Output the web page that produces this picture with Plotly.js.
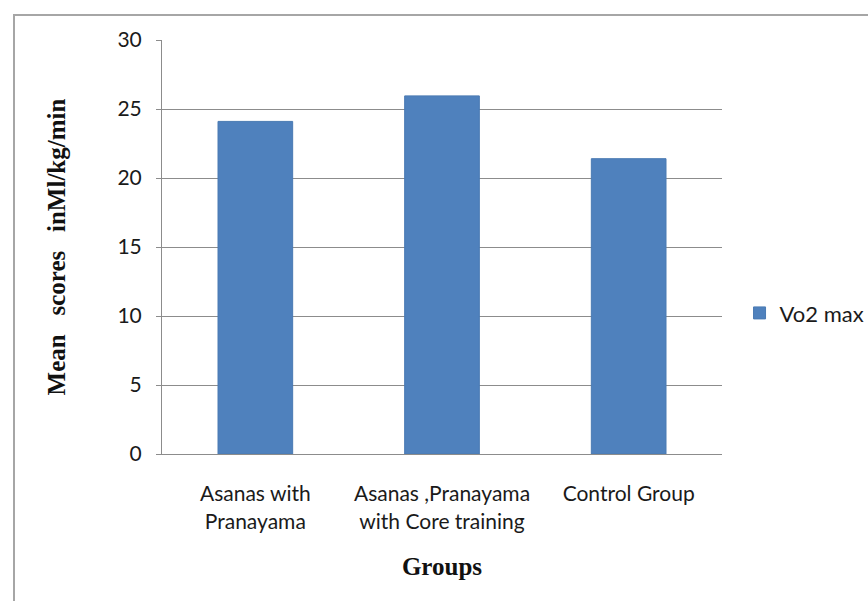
<!DOCTYPE html>
<html>
<head>
<meta charset="utf-8">
<script src="https://cdn.plot.ly/plotly-3.0.1.min.js"></script>
<style>
  html, body { margin: 0; padding: 0; background: #fff; }
  #frame { position: absolute; left: 13px; top: 14px; width: 900px; height: 700px;
           border-left: 2px solid #a6a6a6; border-top: 2px solid #a6a6a6; }
  #chart { position: absolute; left: 0; top: 0; width: 868px; height: 601px; }
</style>
</head>
<body>
<div id="frame"></div>
<div id="chart"></div>
<script>
const categories = ["Asanas with<br>Pranayama", "Asanas ,Pranayama<br>with Core training", "Control Group"];
const vo2max = [24.1, 25.95, 21.4];
const yTicks = [0, 5, 10, 15, 20, 25, 30];

const sans = "Lato, 'Open Sans', sans-serif";
const serif = "'Liberation Serif', serif";

const trace = {
  type: "bar",
  x: categories,
  y: vo2max,
  name: "Vo2 max",
  marker: { color: "#4f81bd", line: { color: "#4a7ab3", width: 1 } },
  hoverinfo: "x+y"
};

const layout = {
  width: 868,
  height: 601,
  margin: { l: 162, r: 146, t: 40, b: 147, pad: 0 },
  paper_bgcolor: "rgba(0,0,0,0)",
  plot_bgcolor: "#fff",
  bargap: 0.6,
  showlegend: true,
  legend: {
    xref: "container", yref: "container",
    x: 0.852, y: 0.479, xanchor: "left", yanchor: "middle",
    font: { family: sans, size: 22, color: "#1a1a1a" },
    itemwidth: 30
  },
  xaxis: {
    type: "category",
    showline: true, linecolor: "#8c8c8c", linewidth: 1,
    ticks: "", showgrid: false,
    tickfont: { family: sans, size: 21, color: "#1a1a1a" },
    ticklabelstandoff: 21,
    title: { text: "Groups", font: { family: serif, size: 25, color: "#111", weight: "bold" }, standoff: 25 }
  },
  yaxis: {
    range: [0, 30],
    tickvals: yTicks,
    ticktext: yTicks.map(String),
    showline: true, linecolor: "#8c8c8c", linewidth: 1,
    ticks: "outside", ticklen: 5, tickcolor: "#8c8c8c",
    showgrid: true, gridcolor: "#8c8c8c", gridwidth: 1,
    zeroline: false,
    tickfont: { family: sans, size: 21, color: "#1a1a1a" },
    ticklabelstandoff: 10,
    title: { text: "Mean   scores   inMl/kg/min", font: { family: serif, size: 25, color: "#111", weight: "bold" }, standoff: 44 }
  }
};

Plotly.newPlot("chart", [trace], layout, { displayModeBar: false, staticPlot: true });
</script>
</body>
</html>
